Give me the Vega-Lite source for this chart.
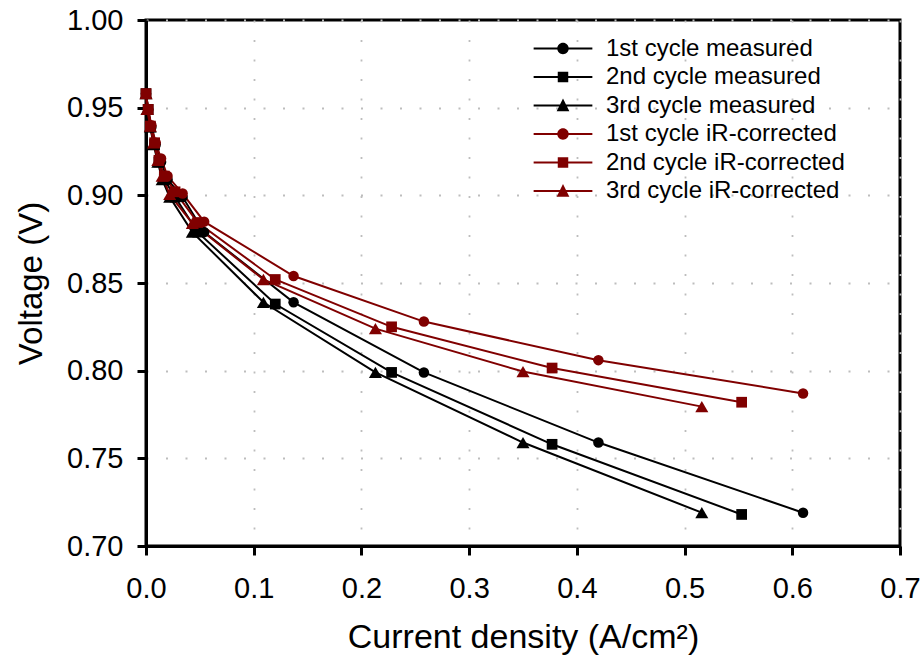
{
  "$schema": "https://vega.github.io/schema/vega-lite/v6.json",
  "width": 754,
  "height": 526,
  "autosize": {"type": "none"},
  "padding": {"left": 146, "top": 20, "right": 21, "bottom": 115},
  "config": {
    "font": "Liberation Sans",
    "view": {"stroke": "black", "strokeWidth": 3}
  },
  "data": {
    "values": [
      {"series": "1st cycle measured", "current": 0.000, "voltage": 0.958},
      {"series": "1st cycle measured", "current": 0.002, "voltage": 0.949},
      {"series": "1st cycle measured", "current": 0.005, "voltage": 0.939},
      {"series": "1st cycle measured", "current": 0.009, "voltage": 0.929},
      {"series": "1st cycle measured", "current": 0.014, "voltage": 0.919},
      {"series": "1st cycle measured", "current": 0.020, "voltage": 0.909},
      {"series": "1st cycle measured", "current": 0.034, "voltage": 0.899},
      {"series": "1st cycle measured", "current": 0.054, "voltage": 0.879},
      {"series": "1st cycle measured", "current": 0.137, "voltage": 0.839},
      {"series": "1st cycle measured", "current": 0.258, "voltage": 0.799},
      {"series": "1st cycle measured", "current": 0.420, "voltage": 0.759},
      {"series": "1st cycle measured", "current": 0.610, "voltage": 0.719},
      {"series": "2nd cycle measured", "current": 0.000, "voltage": 0.958},
      {"series": "2nd cycle measured", "current": 0.002, "voltage": 0.949},
      {"series": "2nd cycle measured", "current": 0.004, "voltage": 0.939},
      {"series": "2nd cycle measured", "current": 0.008, "voltage": 0.929},
      {"series": "2nd cycle measured", "current": 0.012, "voltage": 0.919},
      {"series": "2nd cycle measured", "current": 0.017, "voltage": 0.909},
      {"series": "2nd cycle measured", "current": 0.027, "voltage": 0.899},
      {"series": "2nd cycle measured", "current": 0.048, "voltage": 0.879},
      {"series": "2nd cycle measured", "current": 0.120, "voltage": 0.838},
      {"series": "2nd cycle measured", "current": 0.228, "voltage": 0.799},
      {"series": "2nd cycle measured", "current": 0.377, "voltage": 0.758},
      {"series": "2nd cycle measured", "current": 0.553, "voltage": 0.718},
      {"series": "3rd cycle measured", "current": 0.000, "voltage": 0.958},
      {"series": "3rd cycle measured", "current": 0.001, "voltage": 0.949},
      {"series": "3rd cycle measured", "current": 0.004, "voltage": 0.939},
      {"series": "3rd cycle measured", "current": 0.007, "voltage": 0.929},
      {"series": "3rd cycle measured", "current": 0.011, "voltage": 0.919},
      {"series": "3rd cycle measured", "current": 0.015, "voltage": 0.909},
      {"series": "3rd cycle measured", "current": 0.022, "voltage": 0.899},
      {"series": "3rd cycle measured", "current": 0.043, "voltage": 0.879},
      {"series": "3rd cycle measured", "current": 0.109, "voltage": 0.839},
      {"series": "3rd cycle measured", "current": 0.213, "voltage": 0.799},
      {"series": "3rd cycle measured", "current": 0.350, "voltage": 0.759},
      {"series": "3rd cycle measured", "current": 0.516, "voltage": 0.719},
      {"series": "1st cycle iR-corrected", "current": 0.000, "voltage": 0.958},
      {"series": "1st cycle iR-corrected", "current": 0.002, "voltage": 0.949},
      {"series": "1st cycle iR-corrected", "current": 0.005, "voltage": 0.940},
      {"series": "1st cycle iR-corrected", "current": 0.009, "voltage": 0.930},
      {"series": "1st cycle iR-corrected", "current": 0.014, "voltage": 0.921},
      {"series": "1st cycle iR-corrected", "current": 0.020, "voltage": 0.911},
      {"series": "1st cycle iR-corrected", "current": 0.034, "voltage": 0.901},
      {"series": "1st cycle iR-corrected", "current": 0.054, "voltage": 0.885},
      {"series": "1st cycle iR-corrected", "current": 0.137, "voltage": 0.854},
      {"series": "1st cycle iR-corrected", "current": 0.258, "voltage": 0.828},
      {"series": "1st cycle iR-corrected", "current": 0.420, "voltage": 0.806},
      {"series": "1st cycle iR-corrected", "current": 0.610, "voltage": 0.787},
      {"series": "2nd cycle iR-corrected", "current": 0.000, "voltage": 0.958},
      {"series": "2nd cycle iR-corrected", "current": 0.002, "voltage": 0.949},
      {"series": "2nd cycle iR-corrected", "current": 0.004, "voltage": 0.9395},
      {"series": "2nd cycle iR-corrected", "current": 0.008, "voltage": 0.930},
      {"series": "2nd cycle iR-corrected", "current": 0.012, "voltage": 0.920},
      {"series": "2nd cycle iR-corrected", "current": 0.017, "voltage": 0.911},
      {"series": "2nd cycle iR-corrected", "current": 0.027, "voltage": 0.902},
      {"series": "2nd cycle iR-corrected", "current": 0.048, "voltage": 0.8845},
      {"series": "2nd cycle iR-corrected", "current": 0.120, "voltage": 0.852},
      {"series": "2nd cycle iR-corrected", "current": 0.228, "voltage": 0.825},
      {"series": "2nd cycle iR-corrected", "current": 0.377, "voltage": 0.8015},
      {"series": "2nd cycle iR-corrected", "current": 0.553, "voltage": 0.782},
      {"series": "3rd cycle iR-corrected", "current": 0.000, "voltage": 0.958},
      {"series": "3rd cycle iR-corrected", "current": 0.001, "voltage": 0.949},
      {"series": "3rd cycle iR-corrected", "current": 0.004, "voltage": 0.9395},
      {"series": "3rd cycle iR-corrected", "current": 0.007, "voltage": 0.930},
      {"series": "3rd cycle iR-corrected", "current": 0.011, "voltage": 0.920},
      {"series": "3rd cycle iR-corrected", "current": 0.015, "voltage": 0.911},
      {"series": "3rd cycle iR-corrected", "current": 0.022, "voltage": 0.9005},
      {"series": "3rd cycle iR-corrected", "current": 0.043, "voltage": 0.884},
      {"series": "3rd cycle iR-corrected", "current": 0.109, "voltage": 0.852},
      {"series": "3rd cycle iR-corrected", "current": 0.213, "voltage": 0.824},
      {"series": "3rd cycle iR-corrected", "current": 0.350, "voltage": 0.7995},
      {"series": "3rd cycle iR-corrected", "current": 0.516, "voltage": 0.7795}
    ]
  },
  "encoding": {
    "x": {
      "field": "current", "type": "quantitative",
      "scale": {"domain": [0, 0.7], "nice": false, "zero": false},
      "axis": {
        "title": "Current density (A/cm²)",
        "values": [0, 0.1, 0.2, 0.3, 0.4, 0.5, 0.6, 0.7],
        "format": ".1f",
        "labelFont": "Liberation Sans", "labelFontSize": 29, "labelColor": "black",
        "labelPadding": 19, "labelFlush": false, "labelOverlap": false,
        "titleFont": "Liberation Sans", "titleFontSize": 34, "titleFontWeight": "normal", "titleColor": "black",
        "titlePadding": 17,
        "domainColor": "black", "domainWidth": 3,
        "tickColor": "black", "tickWidth": 3, "tickSize": 9,
        "grid": true, "gridColor": "#bdbdbd", "gridWidth": 1.8, "gridDash": [2, 17.5]
      }
    },
    "y": {
      "field": "voltage", "type": "quantitative",
      "scale": {"domain": [0.7, 1.0], "nice": false, "zero": false},
      "axis": {
        "title": "Voltage (V)",
        "values": [0.7, 0.75, 0.8, 0.85, 0.9, 0.95, 1.0],
        "format": ".2f",
        "labelFont": "Liberation Sans", "labelFontSize": 29, "labelColor": "black",
        "labelPadding": 14, "labelFlush": false, "labelOverlap": false,
        "titleFont": "Liberation Sans", "titleFontSize": 33, "titleFontWeight": "normal", "titleColor": "black",
        "titlePadding": 18,
        "domainColor": "black", "domainWidth": 3,
        "tickColor": "black", "tickWidth": 3, "tickSize": 9,
        "grid": true, "gridColor": "#bdbdbd", "gridWidth": 1.8, "gridDash": [2, 17.5]
      }
    }
  },
  "layer": [
    {
      "transform": [{"filter": "indexof(datum.series, 'measured') >= 0"}],
      "mark": {"type": "line", "strokeWidth": 2, "color": "#000000"},
      "encoding": {"detail": {"field": "series", "type": "nominal"}}
    },
    {
      "transform": [{"filter": "indexof(datum.series, 'corrected') >= 0"}],
      "mark": {"type": "line", "strokeWidth": 2, "color": "#800000"},
      "encoding": {"detail": {"field": "series", "type": "nominal"}}
    },
    {
      "transform": [{"filter": "datum.series === '1st cycle measured'"}],
      "mark": {"type": "point", "filled": true, "shape": "circle", "size": 110, "opacity": 1, "color": "#000000"}
    },
    {
      "transform": [{"filter": "datum.series === '2nd cycle measured'"}],
      "mark": {"type": "point", "filled": true, "shape": "square", "size": 115, "opacity": 1, "color": "#000000"}
    },
    {
      "transform": [{"filter": "datum.series === '3rd cycle measured'"}],
      "mark": {"type": "point", "filled": true, "shape": "triangle-up", "size": 170, "opacity": 1, "color": "#000000"}
    },
    {
      "transform": [{"filter": "datum.series === '1st cycle iR-corrected'"}],
      "mark": {"type": "point", "filled": true, "shape": "circle", "size": 110, "opacity": 1, "color": "#800000"}
    },
    {
      "transform": [{"filter": "datum.series === '2nd cycle iR-corrected'"}],
      "mark": {"type": "point", "filled": true, "shape": "square", "size": 115, "opacity": 1, "color": "#800000"}
    },
    {
      "transform": [{"filter": "datum.series === '3rd cycle iR-corrected'"}],
      "mark": {"type": "point", "filled": true, "shape": "triangle-up", "size": 170, "opacity": 1, "color": "#800000"}
    },
    {
      "mark": {"type": "point", "filled": true, "size": 110, "opacity": 0},
      "encoding": {
        "color": {
          "field": "series", "type": "nominal",
          "scale": {
            "domain": ["1st cycle measured", "2nd cycle measured", "3rd cycle measured", "1st cycle iR-corrected", "2nd cycle iR-corrected", "3rd cycle iR-corrected"],
            "range": ["#000000", "#000000", "#000000", "#800000", "#800000", "#800000"]
          },
          "legend": {
            "orient": "none", "legendX": 405, "legendY": 16.5, "title": null,
            "labelFont": "Liberation Sans", "labelFontSize": 24, "labelColor": "black",
            "labelOffset": 31, "labelLimit": 400,
            "symbolSize": 110, "symbolOpacity": 1, "symbolStrokeWidth": 0,
            "rowPadding": 4.5, "padding": 0
          }
        },
        "shape": {
          "field": "series", "type": "nominal",
          "scale": {
            "domain": ["1st cycle measured", "2nd cycle measured", "3rd cycle measured", "1st cycle iR-corrected", "2nd cycle iR-corrected", "3rd cycle iR-corrected"],
            "range": [
              "M-5.6,-0.19H5.6V0.19H-5.6Z M-1.09,0A1.09,1.09 0 1,1 1.09,0A1.09,1.09 0 1,1 -1.09,0Z",
              "M-5.6,-0.19H5.6V0.19H-5.6Z M-1,-1H1V1H-1Z",
              "M-5.6,-0.19H5.6V0.19H-5.6Z M0,-1.34L1.21,1.09H-1.21Z",
              "M-5.6,-0.19H5.6V0.19H-5.6Z M-1.09,0A1.09,1.09 0 1,1 1.09,0A1.09,1.09 0 1,1 -1.09,0Z",
              "M-5.6,-0.19H5.6V0.19H-5.6Z M-1,-1H1V1H-1Z",
              "M-5.6,-0.19H5.6V0.19H-5.6Z M0,-1.34L1.21,1.09H-1.21Z"
            ]
          },
          "legend": {
            "orient": "none", "legendX": 405, "legendY": 16.5, "title": null,
            "labelFont": "Liberation Sans", "labelFontSize": 24, "labelColor": "black",
            "labelOffset": 31, "labelLimit": 400,
            "symbolSize": 110, "symbolOpacity": 1, "symbolStrokeWidth": 0,
            "rowPadding": 4.5, "padding": 0
          }
        }
      }
    }
  ]
}
